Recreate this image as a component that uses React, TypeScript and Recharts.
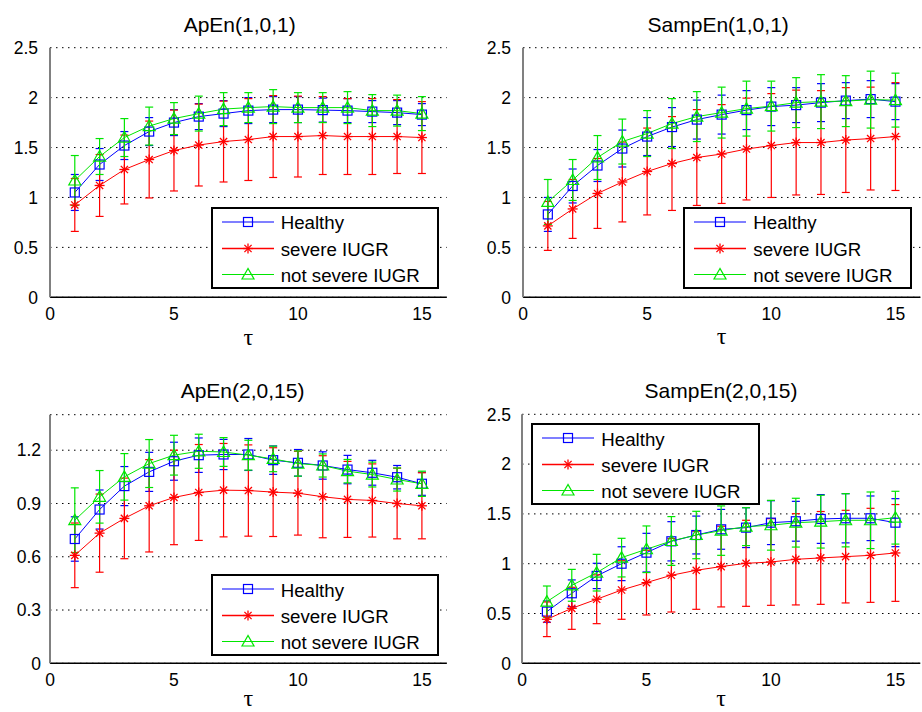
import React from 'react';
import { LineChart, Line, XAxis, YAxis, CartesianGrid, ErrorBar, Legend } from 'recharts';

// ---------- data ----------
const tau = [1, 2, 3, 4, 5, 6, 7, 8, 9, 10, 11, 12, 13, 14, 15];
const seriesNames = ['Healthy', 'severe IUGR', 'not severe IUGR'];
const xTicks = [0, 5, 10, 15];
const yTicksA = [0, 0.5, 1, 1.5, 2, 2.5];
const yTicksB = [0, 0.3, 0.6, 0.9, 1.2];

// ApEn(1,0,1)
const apen101Healthy = [1.05, 1.33, 1.52, 1.66, 1.75, 1.81, 1.84, 1.87, 1.88, 1.88, 1.875, 1.87, 1.86, 1.85, 1.83];
const apen101HealthyErr = [0.18, 0.16, 0.14, 0.14, 0.13, 0.13, 0.13, 0.13, 0.13, 0.13, 0.12, 0.12, 0.11, 0.12, 0.11];
const apen101Severe = [0.925, 1.12, 1.28, 1.38, 1.47, 1.525, 1.56, 1.58, 1.61, 1.61, 1.62, 1.61, 1.61, 1.61, 1.6];
const apen101SevereErr = [0.265, 0.31, 0.345, 0.385, 0.405, 0.41, 0.405, 0.41, 0.41, 0.405, 0.39, 0.38, 0.38, 0.37, 0.36];
const apen101NotSevere = [1.17, 1.41, 1.6, 1.715, 1.79, 1.84, 1.885, 1.9, 1.91, 1.9, 1.9, 1.9, 1.87, 1.87, 1.84];
const apen101NotSevereErr = [0.25, 0.18, 0.19, 0.19, 0.16, 0.175, 0.165, 0.15, 0.17, 0.15, 0.15, 0.16, 0.16, 0.155, 0.17];

// SampEn(1,0,1)
const sampen101Healthy = [0.83, 1.115, 1.32, 1.49, 1.61, 1.705, 1.78, 1.83, 1.875, 1.91, 1.925, 1.95, 1.97, 1.985, 1.96];
const sampen101HealthyErr = [0.17, 0.17, 0.16, 0.185, 0.19, 0.195, 0.195, 0.195, 0.195, 0.19, 0.175, 0.19, 0.18, 0.185, 0.18];
const sampen101Severe = [0.715, 0.885, 1.04, 1.155, 1.26, 1.34, 1.4, 1.435, 1.485, 1.52, 1.55, 1.55, 1.575, 1.59, 1.61];
const sampen101SevereErr = [0.245, 0.295, 0.35, 0.4, 0.435, 0.47, 0.48, 0.495, 0.51, 0.52, 0.525, 0.52, 0.525, 0.515, 0.54];
const sampen101NotSevere = [0.955, 1.175, 1.4, 1.56, 1.64, 1.74, 1.81, 1.85, 1.89, 1.915, 1.95, 1.96, 1.965, 1.98, 1.975];
const sampen101NotSevereErr = [0.225, 0.205, 0.22, 0.225, 0.23, 0.25, 0.25, 0.255, 0.275, 0.25, 0.25, 0.27, 0.255, 0.285, 0.27];

// ApEn(2,0,15)
const apen2015Healthy = [0.7, 0.866, 0.998, 1.078, 1.138, 1.172, 1.176, 1.176, 1.144, 1.129, 1.114, 1.091, 1.073, 1.048, 1.011];
const apen2015HealthyErr = [0.125, 0.11, 0.11, 0.11, 0.107, 0.097, 0.085, 0.09, 0.08, 0.075, 0.077, 0.08, 0.07, 0.066, 0.065];
const apen2015Severe = [0.608, 0.733, 0.816, 0.887, 0.934, 0.962, 0.975, 0.973, 0.964, 0.958, 0.938, 0.923, 0.917, 0.9, 0.887];
const apen2015SevereErr = [0.182, 0.22, 0.227, 0.26, 0.266, 0.27, 0.263, 0.257, 0.25, 0.236, 0.231, 0.214, 0.206, 0.199, 0.186];
const apen2015NotSevere = [0.806, 0.9375, 1.05, 1.125, 1.172, 1.194, 1.19, 1.172, 1.151, 1.125, 1.114, 1.082, 1.063, 1.035, 1.011];
const apen2015NotSevereErr = [0.182, 0.148, 0.131, 0.135, 0.112, 0.096, 0.081, 0.084, 0.072, 0.071, 0.065, 0.066, 0.07, 0.065, 0.071];

// SampEn(2,0,15)
const sampen2015Healthy = [0.519, 0.703, 0.877, 1.0, 1.111, 1.225, 1.288, 1.345, 1.362, 1.412, 1.426, 1.449, 1.456, 1.456, 1.412];
const sampen2015HealthyErr = [0.107, 0.134, 0.127, 0.17, 0.194, 0.197, 0.19, 0.2, 0.2, 0.22, 0.2, 0.245, 0.247, 0.224, 0.241];
const sampen2015Severe = [0.442, 0.552, 0.643, 0.736, 0.81, 0.884, 0.934, 0.971, 1.004, 1.017, 1.044, 1.058, 1.071, 1.084, 1.108];
const sampen2015SevereErr = [0.174, 0.211, 0.245, 0.294, 0.325, 0.369, 0.392, 0.405, 0.432, 0.435, 0.458, 0.466, 0.465, 0.472, 0.486];
const sampen2015NotSevere = [0.619, 0.783, 0.91, 1.061, 1.145, 1.228, 1.288, 1.332, 1.372, 1.386, 1.412, 1.422, 1.436, 1.436, 1.462];
const sampen2015NotSevereErr = [0.157, 0.16, 0.184, 0.194, 0.234, 0.245, 0.238, 0.248, 0.19, 0.25, 0.245, 0.265, 0.267, 0.284, 0.265];

// ---------- styling ----------
const FONT = '"Liberation Sans", Arial, Helvetica, sans-serif';
const BLUE = '#0000ff';
const RED = '#ff0000';
const GREEN = '#00e600';

const build = (h: number[], he: number[], s: number[], se: number[], n: number[], ne: number[]) =>
  tau.map((t, i) => ({ tau: t, h: h[i], hErr: he[i], s: s[i], sErr: se[i], n: n[i], nErr: ne[i] }));

const SquareMark = ({ cx, cy }: { cx: number; cy: number }) => (
  <rect x={cx - 4.5} y={cy - 4.5} width={9} height={9} fill="none" stroke={BLUE} strokeWidth={1.2} />
);
const StarMark = ({ cx, cy }: { cx: number; cy: number }) => {
  const r = 5;
  const d = 3.6;
  return (
    <g stroke={RED} strokeWidth={1.3}>
      <line x1={cx - r} y1={cy} x2={cx + r} y2={cy} />
      <line x1={cx} y1={cy - r} x2={cx} y2={cy + r} />
      <line x1={cx - d} y1={cy - d} x2={cx + d} y2={cy + d} />
      <line x1={cx - d} y1={cy + d} x2={cx + d} y2={cy - d} />
    </g>
  );
};
const TriMark = ({ cx, cy }: { cx: number; cy: number }) => (
  <polygon
    points={`${cx},${cy - 6} ${cx - 6},${cy + 4.5} ${cx + 6},${cy + 4.5}`}
    fill="none"
    stroke={GREEN}
    strokeWidth={1.2}
  />
);

const markers = [SquareMark, StarMark, TriMark];
const colors = [BLUE, RED, GREEN];

const LegendBox = ({ w, h }: { w: number; h: number }) => {
  const rows = [15, 41.5, 67.5];
  return (
    <div
      style={{
        width: w,
        height: h,
        boxSizing: 'border-box',
        border: '2px solid #000',
        background: '#fff',
        position: 'relative',
        fontFamily: FONT,
        fontSize: 18.7,
        color: '#000',
      }}
    >
      <svg width={w} height={h} style={{ position: 'absolute', left: -2, top: -2, overflow: 'visible' }}>
        {rows.map((y, i) => {
          const M = markers[i];
          return (
            <g key={i}>
              <line x1={11} y1={y} x2={63} y2={y} stroke={colors[i]} strokeWidth={i === 1 ? 1.6 : 1.2} />
              <M cx={37} cy={y} />
            </g>
          );
        })}
      </svg>
      {rows.map((y, i) => (
        <span
          key={i}
          style={{ position: 'absolute', left: 68, top: y - 2 - 9.5, lineHeight: '22px', whiteSpace: 'nowrap' }}
        >
          {seriesNames[i]}
        </span>
      ))}
    </div>
  );
};

type PanelProps = {
  data: any[];
  yDomain: [number, number];
  yTicks: number[];
  margin: { top: number; right: number; left: number; bottom: number };
  yTickMargin: number;
  labelOffset: number;
  legend: { left: number; top: number; w: number; h: number };
};

const W = 461;
const H = 356;

const Panel = ({ data, yDomain, yTicks, margin, yTickMargin, labelOffset, legend }: PanelProps) => (
  <LineChart width={W} height={H} data={data} margin={margin}>
    <CartesianGrid
      horizontal={true}
      vertical={false}
      stroke="#000"
      strokeWidth={1}
      strokeDasharray="1.5 4.5"
    />
    <XAxis
      type="number"
      dataKey="tau"
      domain={[0, 16]}
      ticks={xTicks}
      interval={0}
      height={48}
      tickLine={false}
      tickSize={6}
      tickMargin={4}
      axisLine={{ stroke: '#000', strokeWidth: 1.5 }}
      tick={{ fill: '#000', fontSize: 17.5, fontFamily: FONT }}
      label={{
        value: 'τ',
        position: 'insideBottom',
        offset: labelOffset,
        fontSize: 24,
        fontFamily: '"Liberation Serif", "DejaVu Serif", serif',
        fill: '#000',
      }}
    />
    <YAxis
      type="number"
      domain={yDomain}
      ticks={yTicks}
      interval={0}
      width={45}
      tickLine={false}
      tickSize={6}
      tickMargin={yTickMargin}
      axisLine={{ stroke: '#808080', strokeWidth: 2 }}
      tick={{ fill: '#000', fontSize: 17.5, fontFamily: FONT }}
    />
    <Legend
      layout="vertical"
      align="center"
      verticalAlign="middle"
      wrapperStyle={{ left: legend.left, top: legend.top, width: legend.w, height: legend.h }}
      content={() => <LegendBox w={legend.w} h={legend.h} />}
    />
    {(['h', 's', 'n'] as const).map((k, i) => {
      const M = markers[i];
      return (
        <Line
          key={k}
          type="linear"
          dataKey={k}
          name={seriesNames[i]}
          stroke={colors[i]}
          strokeWidth={1}
          isAnimationActive={false}
          activeDot={false}
          dot={(p: any) => <M key={`${k}-${p.index}`} cx={p.cx} cy={p.cy} />}
        >
          <ErrorBar dataKey={`${k}Err`} direction="y" width={4} stroke={colors[i]} strokeWidth={1.2} />
        </Line>
      );
    })}
  </LineChart>
);

const panels = [
  {
    key: 'p1',
    title: 'ApEn(1,0,1)',
    pos: { left: 0, top: 0 },
    titleAt: { x: 239.7, y: 31.5 },
    data: build(apen101Healthy, apen101HealthyErr, apen101Severe, apen101SevereErr, apen101NotSevere, apen101NotSevereErr),
    yDomain: [0, 2.5] as [number, number],
    yTicks: yTicksA,
    margin: { top: 47.7, right: 14.3, left: 5, bottom: 10.7 },
    yTickMargin: 6,
    labelOffset: 0.5,
    legend: { left: 210.7, top: 206.7, w: 228, h: 82 },
  },
  {
    key: 'p2',
    title: 'SampEn(1,0,1)',
    pos: { left: 461, top: 0 },
    titleAt: { x: 718.2, y: 31.5 },
    data: build(sampen101Healthy, sampen101HealthyErr, sampen101Severe, sampen101SevereErr, sampen101NotSevere, sampen101NotSevereErr),
    yDomain: [0, 2.5] as [number, number],
    yTicks: yTicksA,
    margin: { top: 47.7, right: 1.7, left: 17, bottom: 10.7 },
    yTickMargin: 6,
    labelOffset: 1.5,
    legend: { left: 222.3, top: 206.7, w: 228.7, h: 82 },
  },
  {
    key: 'p3',
    title: 'ApEn(2,0,15)',
    pos: { left: 0, top: 356 },
    titleAt: { x: 242.5, y: 398.3 },
    data: build(apen2015Healthy, apen2015HealthyErr, apen2015Severe, apen2015SevereErr, apen2015NotSevere, apen2015NotSevereErr),
    yDomain: [0, 1.4] as [number, number],
    yTicks: yTicksB,
    margin: { top: 58.7, right: 14.3, left: 5, bottom: 0.7 },
    yTickMargin: 3,
    labelOffset: 5,
    legend: { left: 210.7, top: 218, w: 228, h: 81.5 },
  },
  {
    key: 'p4',
    title: 'SampEn(2,0,15)',
    pos: { left: 461, top: 356 },
    titleAt: { x: 721, y: 398.3 },
    data: build(sampen2015Healthy, sampen2015HealthyErr, sampen2015Severe, sampen2015SevereErr, sampen2015NotSevere, sampen2015NotSevereErr),
    yDomain: [0, 2.5] as [number, number],
    yTicks: yTicksA,
    margin: { top: 58.3, right: 1.7, left: 16, bottom: 0.7 },
    yTickMargin: 5,
    labelOffset: 5,
    legend: { left: 70.3, top: 67.3, w: 229, h: 81.7 },
  },
];

export default function App() {
  return (
    <div style={{ position: 'absolute', left: 0, top: 0, width: 922, height: 712, background: '#fff', overflow: 'hidden' }}>
      {panels.map((p) => (
        <div key={p.key} style={{ position: 'absolute', left: p.pos.left, top: p.pos.top, width: W, height: H }}>
          <Panel
            data={p.data}
            yDomain={p.yDomain}
            yTicks={p.yTicks}
            margin={p.margin}
            yTickMargin={p.yTickMargin}
            labelOffset={p.labelOffset}
            legend={p.legend}
          />
        </div>
      ))}
      <svg width={922} height={712} style={{ position: 'absolute', left: 0, top: 0, pointerEvents: 'none' }}>
        {panels.map((p) => (
          <text
            key={p.key}
            x={p.titleAt.x}
            y={p.titleAt.y}
            textAnchor="middle"
            fontFamily={FONT}
            fontSize={21}
            fill="#000"
          >
            {p.title}
          </text>
        ))}
      </svg>
    </div>
  );
}
